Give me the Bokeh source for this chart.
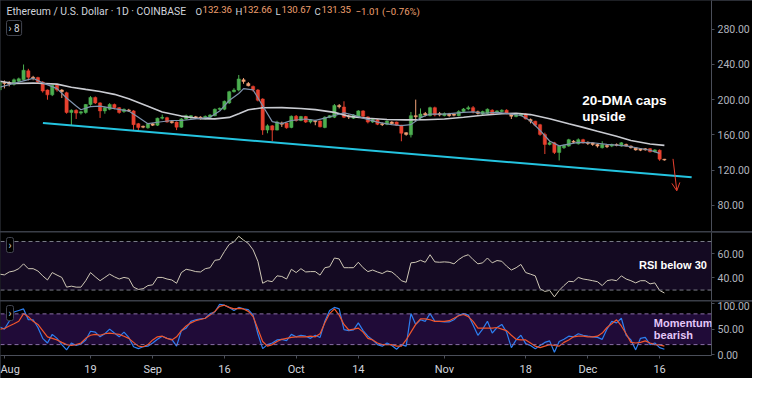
import pandas as pd
from bokeh.plotting import figure
from bokeh.layouts import column
from bokeh.models import (ColumnDataSource, Range1d, FixedTicker, NumeralTickFormatter,
                          BoxAnnotation, Span, Label, Arrow, OpenHead)
from bokeh.embed import file_html
from bokeh.resources import INLINE

# ---------------- data ----------------
first_day = "2019-07-31"
origin = pd.Timestamp("2019-08-01")

opens = [211, 219.5, 218.8, 217.4, 221, 222.5, 232.7, 225.4, 225, 219.9,
         210.9, 205.4, 216.3, 210.9, 207.9, 185.4, 187.9, 184.7, 185.4, 194.5,
         202.5, 196.3, 187.2, 189, 194.5, 190.9, 186.5, 188.3, 187.2, 172.7,
         169.8, 168, 172.7, 170.9, 178.9, 179.5, 175.2, 174.5, 168.7, 178.1,
         179.9, 180.6, 180.2, 178.1, 179.9, 181.8, 189, 189, 196.3, 209,
         210.9, 222.5, 218.3, 215, 210.9, 200.7, 165.4, 170.2, 165.4, 173.4,
         173.4, 168.4, 181.1, 176.3, 180.7, 174.5, 176, 175.6, 168.4, 179.6,
         180, 193.4, 191.6, 181.8, 178.9, 180, 187.2, 180.4, 174.5, 177,
         172.7, 172, 174.5, 174.5, 170.9, 162.5, 160, 181.8, 179.2, 184.3,
         181.8, 190.9, 184.3, 181.8, 183.6, 183.6, 181.8, 186.5, 189.4, 190.9,
         186.2, 183.6, 184.3, 188, 185.4, 186.5, 188, 183.6, 180.7, 181.8,
         183.6, 177.5, 175.5, 171.5, 160.5, 149.1, 150.9, 140, 145.4, 147.2,
         152.7, 149.8, 154.5, 151.6, 150.9, 149.1, 145.4, 148, 147.2, 149.1,
         147.2, 149.1, 147.2, 145.4, 144.3, 144.3, 144.3, 140.7, 142.5, 132.36]
highs = [222, 221.8, 221, 224, 225, 239.9, 235, 227, 226, 221,
         211.5, 217, 217, 212, 209, 189, 189, 187, 195, 204,
         203.5, 197, 192, 196, 195.5, 191.5, 190, 189.5, 188, 173.5,
         170.5, 173.5, 173.5, 179.5, 183, 180.5, 176, 175.2, 179, 183,
         182.5, 181.5, 181, 182, 183.5, 190, 191, 199, 210, 213,
         228, 224.5, 220, 216, 212, 201.5, 172, 171, 176, 175,
         174, 182, 182.5, 181.5, 181.5, 178, 177, 176.5, 181, 182.5,
         195, 195, 198.1, 183, 183.5, 188, 188, 181, 178.5, 178,
         174, 176.5, 175.5, 175, 171.5, 163, 186, 200, 190, 186,
         192, 192, 186, 185.5, 185, 184, 188, 190.5, 193, 192.7,
         187.5, 187.5, 190, 189, 188, 189, 189, 184.5, 184, 185,
         184.5, 178.5, 176, 172.5, 162.5, 153, 152, 148, 149, 155.5,
         154, 156, 155.5, 152.5, 151.5, 150, 152.7, 149, 150, 150.2,
         151.8, 150, 148, 146, 145, 145, 145, 143.6, 143.5, 132.66]
lows = [209, 212.7, 215, 216, 219, 221.8, 221.8, 222, 218, 208,
        199.9, 204, 209, 201.8, 184, 170.9, 178, 183, 184, 193,
        195, 179.2, 184, 188, 189, 184, 185, 186, 165.4, 163.6,
        167.5, 167, 170, 170, 177.5, 173.8, 172.8, 165.4, 168, 177,
        178, 178.5, 177.5, 177.5, 179, 181, 188, 188, 195, 208,
        209.5, 218, 215, 209, 198, 160, 161.8, 152.7, 165, 169,
        167, 167.5, 175, 175.5, 173.5, 173, 170.9, 168.5, 167.5, 179,
        179, 190, 179, 178, 178, 179, 180, 173, 173.5, 171,
        170, 171, 172, 170, 152.7, 159, 157, 175, 178, 181,
        181, 181, 181, 181, 180.5, 181, 181, 185.5, 188, 184.3,
        183, 182.5, 183.5, 182.5, 184.5, 185.5, 183.5, 178, 180, 181,
        177.5, 173, 169.5, 159, 138.2, 148, 138.2, 130.9, 144, 146.5,
        150.5, 149, 150, 148.5, 147.5, 145.5, 144.5, 145, 146, 147,
        146.5, 146.5, 144.5, 142, 141.5, 142, 140, 140, 130.5, 130.67]
closes = [220, 218.3, 217.8, 222.5, 223.6, 233.4, 225.4, 224.2, 219.9, 209.8,
          205.4, 216.3, 210.9, 209.0, 185.4, 187.9, 184.7, 186.2, 194.5, 202.5,
          196.3, 187.2, 190.9, 194.5, 190.9, 185.4, 189, 187.2, 171.6, 168.4,
          168.7, 172.7, 170.9, 178.9, 179.9, 174.5, 173.8, 168.7, 178.1, 181.8,
          181.8, 179.2, 178.9, 181, 182.5, 189, 190.1, 198.1, 209, 210.9,
          223.5, 220.5, 215.8, 210.9, 199.3, 165.4, 170.2, 165.4, 174.5, 172,
          168, 181.1, 176.3, 180.7, 174.5, 177, 174.8, 169.1, 180, 181.8,
          193.4, 192, 180, 180.4, 182.5, 187.2, 181.1, 174.5, 177.4, 172,
          171.6, 175.6, 172.7, 170.9, 161.8, 160.5, 181.8, 180.5, 183.6, 182.5,
          190.9, 182.5, 182.5, 184.3, 181.8, 182.2, 186.5, 189.4, 190.9, 186.5,
          184.3, 186.5, 189.1, 183.6, 187.2, 188, 184.3, 181.1, 182.9, 184.3,
          178.1, 175.5, 171, 160.5, 149.1, 151, 140, 147.2, 148, 154.5,
          151.6, 154.5, 150.9, 150.2, 149.1, 147.2, 149.1, 146.5, 149.1, 148,
          150.9, 147.2, 145.4, 142.9, 142.5, 142.9, 140.7, 142.9, 132.36, 131.35]

ma20_dates = ["2019-07-31", "2019-08-03", "2019-08-07", "2019-08-12", "2019-08-15", "2019-08-18",
              "2019-08-21", "2019-08-24", "2019-08-27", "2019-08-31", "2019-09-03", "2019-09-07",
              "2019-09-11", "2019-09-14", "2019-09-17", "2019-09-19", "2019-09-21", "2019-09-24",
              "2019-09-28", "2019-10-02", "2019-10-05", "2019-10-09", "2019-10-12", "2019-10-16",
              "2019-10-20", "2019-10-24", "2019-10-28", "2019-11-01", "2019-11-05", "2019-11-09",
              "2019-11-13", "2019-11-16", "2019-11-19", "2019-11-23", "2019-11-27", "2019-11-30",
              "2019-12-03", "2019-12-07", "2019-12-10", "2019-12-14", "2019-12-17"]
ma20_vals = [221, 218.3, 218.8, 217.6, 214, 211.6, 209.3, 206, 201, 192.5, 186, 181.3,
             178.3, 178.1, 179.8, 184, 188.5, 190.8, 190.9, 190, 188.6, 185.5, 181, 178.8,
             177.5, 177, 177.2, 178, 180, 182.2, 184, 184.5, 183, 178.2, 172.5, 168.5,
             164, 158.5, 153.5, 149.6, 148]

fast_dates = ["2019-07-31", "2019-08-04", "2019-08-07", "2019-08-09", "2019-08-12", "2019-08-14",
              "2019-08-16", "2019-08-17", "2019-08-19", "2019-08-21", "2019-08-24", "2019-08-27",
              "2019-08-29", "2019-08-31", "2019-09-02", "2019-09-05", "2019-09-07", "2019-09-10",
              "2019-09-13", "2019-09-15", "2019-09-17", "2019-09-19", "2019-09-20", "2019-09-22",
              "2019-09-24", "2019-09-26", "2019-09-28", "2019-09-30", "2019-10-03", "2019-10-05",
              "2019-10-07", "2019-10-09", "2019-10-11", "2019-10-13", "2019-10-15", "2019-10-18",
              "2019-10-21", "2019-10-23", "2019-10-25", "2019-10-27", "2019-10-29", "2019-11-01",
              "2019-11-05", "2019-11-07", "2019-11-09", "2019-11-12", "2019-11-15", "2019-11-17",
              "2019-11-19", "2019-11-21", "2019-11-23", "2019-11-25", "2019-11-27", "2019-11-29",
              "2019-12-02", "2019-12-05", "2019-12-09", "2019-12-12", "2019-12-14", "2019-12-16"]
fast_vals = [214, 219.9, 224.2, 219, 212.5, 201.8, 192.7, 188.5, 192, 192.7, 189.8, 187,
             180, 172.7, 174.3, 176.3, 176.3, 178.1, 180, 187, 199, 207, 212.5, 211,
             193, 175, 172.7, 176.3, 178, 176.5, 179, 182, 185, 182.5, 179, 174.5,
             171.6, 170.5, 171.6, 179.5, 183.6, 183.6, 185.5, 186, 184.5, 185.5, 183.6, 182,
             176, 165, 153, 147.5, 149.5, 151.5, 151, 149.2, 147.5, 144.5, 142.5, 139]

rsi = [43.1, 42.5, 44.9, 45.7, 47.6, 51.6, 47.6, 47.6, 45.7, 41.7,
       38.3, 44.4, 42.3, 40.4, 32.4, 33.2, 32.4, 32.4, 37.7, 44.4,
       40.9, 37.7, 40.4, 43.1, 40.9, 39.1, 40.4, 39.6, 32.4, 30.5,
       31.1, 33.7, 34.3, 40.4, 40.4, 39.1, 38.3, 35.6, 44.4, 47.1,
       46.3, 45.2, 44.9, 47.6, 48.4, 54.5, 55.1, 61.7, 67.6, 69.7,
       74.3, 71.1, 68.4, 63.1, 53.7, 35.6, 37.7, 36.9, 41.7, 41.2,
       39.1, 47.1, 44.4, 47.6, 44.9, 45.2, 45.2, 42.3, 48.4, 49.2,
       56.4, 55.6, 48.4, 48.4, 48.4, 52.9, 48.4, 45.2, 46.5, 44.9,
       43.6, 45.7, 44.9, 41.7, 37.7, 36.4, 52.4, 52.9, 54.5, 52.9,
       59.1, 53.2, 52.9, 53.2, 52.9, 51.6, 55.1, 57.7, 59.1, 55.1,
       51.6, 52.4, 56.4, 52.4, 54.3, 53.7, 49.7, 46.5, 48.4, 51.1,
       44.4, 43.1, 41.7, 31.1, 28.9, 29.7, 24.4, 29.7, 33.7, 37.2,
       36.9, 40.4, 39.1, 38.5, 37.7, 36.9, 33.7, 37.7, 38.5, 37.7,
       41.7, 39.1, 37.7, 35.9, 37.7, 37.7, 35.1, 35.9, 29.7, 27.6]

stoch_k = [54.6, 50.3, 65.5, 83.7, 86.7, 89.7, 68.5, 68.5, 53.4, 32.2,
           23.1, 40, 32.2, 20, 9.7, 23.1, 18.2, 21.2, 29.1, 46.1,
           44.3, 35.2, 41.2, 50.3, 42.5, 35.2, 44.3, 34, 15.8, 12.1,
           15.8, 17, 23.1, 30.3, 36.4, 32.2, 30.3, 17, 47.3, 52.2,
           65.5, 68.5, 70.3, 71.5, 80.6, 83.7, 98.8, 97, 92.7, 86.7,
           92.7, 89.7, 88.5, 77.6, 41.2, 12.1, 20, 23.1, 29.1, 30.3,
           27.9, 40, 35.2, 38.2, 36.4, 32.2, 38.2, 34, 65.5, 86.7,
           92.7, 89.7, 49.1, 47.3, 48.5, 62.5, 47.3, 36.4, 29.1, 20,
           17, 23.1, 18.2, 10.9, 20, 17, 80.6, 59.4, 68.5, 65.5,
           80.6, 65.5, 65.5, 64.3, 64.3, 68.5, 77.6, 80.6, 77.6, 58.2,
           38.2, 50.3, 65.5, 42.5, 53.4, 59.4, 44.3, 14, 29.1, 38.2,
           21.9, 18.2, 12.1, 18.2, 24.3, 27.3, 4.9, 26.1, 30.3, 36.4,
           35.2, 41.2, 38.2, 36.4, 35.2, 34, 30.3, 50.3, 65.5, 62.5,
           71.5, 38.2, 29.1, 9.7, 32.2, 34, 20, 23.1, 14, 10.9]

stoch_d = [50.3, 51.5, 56.4, 60.6, 65.5, 80.6, 74.6, 65.5, 59.4, 47.3,
           35.2, 32.2, 29.1, 24.3, 20, 18.2, 20, 23.1, 32.2, 38.2,
           40, 38.2, 41.2, 42.5, 41.2, 40, 36.4, 32.2, 24.3, 17,
           15.8, 20, 29.1, 35.2, 36.4, 32.2, 29.1, 35.2, 47.3, 56.4,
           62.5, 66.7, 69, 71.5, 77.6, 84.9, 94.6, 97, 92.7, 89.7,
           90.9, 89.7, 84.9, 74.6, 50.3, 26.1, 17, 20, 26.1, 30.3,
           32.2, 34, 35.2, 35.2, 35.2, 36.4, 35.2, 41.2, 62.5, 80.6,
           89.7, 77.6, 59.4, 48.5, 50.3, 52.2, 44.3, 32.2, 29.1, 23.1,
           20, 20, 20, 17, 17, 29.1, 44.3, 59.4, 70.3, 70.3,
           68.5, 65.5, 65.5, 65.5, 66.7, 71.5, 76.4, 78.8, 74.6, 65.5,
           52.2, 52.2, 52.2, 52.2, 53.4, 50.3, 47.3, 38.2, 30.3, 29.1,
           29.1, 23.1, 17, 14, 17, 20, 18.2, 17, 24.3, 29.1,
           35.2, 36.4, 36.4, 35.2, 35.2, 36.4, 42.5, 53.4, 60.6, 68.5,
           56.4, 41.2, 24.3, 23.1, 24.3, 27.3, 23.1, 20, 19.4, 17]

trend_dates = ["2019-08-09", "2019-12-22"]
trend_prices = [173.4, 111.7]
trend_frac = [0.05, 0.7]

arrow_dates = ["2019-12-18", "2019-12-19"]
arrow_frac = [0.8, 0.6]
arrow_prices = [132.7, 96.4]

tick_dates = ["2019-08-01", "2019-08-19", "2019-09-01", "2019-09-16", "2019-10-01",
              "2019-10-14", "2019-11-01", "2019-11-18", "2019-12-01", "2019-12-16"]
tick_labels = ["Aug", "19", "Sep", "16", "Oct", "14", "Nov", "18", "Dec", "16"]
price_ticks = [80, 120, 160, 200, 240, 280]
rsi_ticks = [40, 60]
mom_ticks = [0, 50, 100]
last_close = 131.35

# ---------------- helpers ----------------
def day_index(ds):
    return [int((pd.Timestamp(d) - origin).days) for d in ds]

dates = pd.date_range(first_day, periods=len(opens), freq="D")
xs = [int(v) for v in (dates - origin).days]

GREEN, RED, PEACH = "#4caf50", "#e8412f", "#f2a278"
colors = []
for o, c in zip(opens, closes):
    if c >= o:
        colors.append(GREEN)
    elif o - c < 3:
        colors.append(PEACH)
    else:
        colors.append(RED)

src = ColumnDataSource(dict(x=xs, o=opens, h=highs, l=lows, c=closes,
                            top=[max(a, b) for a, b in zip(opens, closes)],
                            bot=[min(a, b) for a, b in zip(opens, closes)],
                            color=colors, rsi=rsi, k=stoch_k, d=stoch_d))

X_LO, X_HI = -0.82, 147.85
FW = 712
AX = 40
BG = "#000000"
SEP = "#4a4e59"
LBL = "#b2b5be"
FONT = "Roboto"


def base_fig(h, y0, y1, ticks, bottom=0):
    p = figure(width=FW + AX, height=h + bottom, output_backend="svg", toolbar_location=None,
               x_range=Range1d(X_LO, X_HI), y_range=Range1d(y0, y1), y_axis_location="right",
               min_border=0, min_border_left=0, min_border_right=AX, min_border_top=0,
               min_border_bottom=bottom, background_fill_color=BG, border_fill_color=BG,
               outline_line_color=None)
    p.xgrid.visible = False
    p.ygrid.visible = False
    ya = p.yaxis[0]
    ya.ticker = FixedTicker(ticks=ticks)
    ya.formatter = NumeralTickFormatter(format="0.00")
    ya.axis_line_color = SEP
    ya.major_tick_line_color = SEP
    ya.major_tick_out = 3
    ya.major_tick_in = 0
    ya.minor_tick_line_color = None
    ya.major_label_standoff = 3
    ya.major_label_text_color = LBL
    ya.major_label_text_font = FONT
    ya.major_label_text_font_size = "10.5px"
    return p

# ---------------- main price panel ----------------
pm = base_fig(231, 50.2, 312.6, price_ticks)
pm.xaxis.visible = False

pm.segment(x0="x", y0="l", x1="x", y1="h", color="color", line_width=1, source=src)
pm.vbar(x="x", width=0.68, top="top", bottom="bot", fill_color="color", line_color="color",
        line_width=0.5, source=src)

ma20_x = day_index(ma20_dates)
fast_x = day_index(fast_dates)
pm.line(ma20_x, ma20_vals, line_color="#c9cbd1", line_width=1.6)
pm.line(fast_x, fast_vals, line_color="#7f93ad", line_width=1.2)

tx = [a + f for a, f in zip(day_index(trend_dates), trend_frac)]
pm.line(tx, trend_prices, line_color="#24c4e0", line_width=2)

ax_ = [a + f for a, f in zip(day_index(arrow_dates), arrow_frac)]
pm.add_layout(Arrow(end=OpenHead(size=8, line_color="#e8412f", line_width=1),
                    x_start=ax_[0], y_start=arrow_prices[0], x_end=ax_[1], y_end=arrow_prices[1],
                    line_color="#e8412f", line_width=1))

# title
pm.add_layout(Label(x=X_LO, y=312.6, x_offset=6, y_offset=-4, text="Ethereum / U.S. Dollar · 1D · COINBASE",
                    text_baseline="top", text_color="#d1d4dc", text_font=FONT, text_font_size="10.4px"))
parts = [("O", 195, "#d1d4dc"), ("132.36", 202, "#f0a070"), ("H", 235, "#d1d4dc"), ("132.66", 242, "#f0a070"),
         ("L", 275, "#d1d4dc"), ("130.67", 281, "#f0a070"), ("C", 314, "#d1d4dc"), ("131.35", 321, "#f0a070"),
         ("\u22121.01 (\u22120.76%)", 355, "#f0a070")]
for t, off, col in parts:
    pm.add_layout(Label(x=X_LO, y=312.6, x_offset=off, y_offset=-5, text=t, text_baseline="top",
                        text_color=col, text_font=FONT, text_font_size="9.6px"))
pm.add_layout(Label(x=X_LO, y=312.6, x_offset=6, y_offset=-20, text="\u203a 8", text_baseline="top",
                    text_color="#d1d4dc", text_font=FONT, text_font_size="10px",
                    border_line_color="#434651", background_fill_color=BG, padding=2, border_radius=2))

pm.add_layout(Label(x=120.8, y=207, text="20-DMA caps\nupside", text_baseline="top", text_color="#ffffff",
                    text_font="Liberation Sans", text_font_style="bold", text_font_size="13.5px",
                    text_line_height=1.05))

pm.add_layout(Label(x=X_HI, y=last_close, x_offset=1, text="131.35", text_baseline="middle",
                    text_color="#ffffff", text_font=FONT, text_font_size="10.5px",
                    background_fill_color="#e53935", padding=3))

# ---------------- RSI panel ----------------
pr = base_fig(68, 21.4, 77.4, rsi_ticks)
pr.xaxis.visible = False
pr.add_layout(BoxAnnotation(bottom=30, top=70, fill_color="#140a22", fill_alpha=1, line_color=None,
                            level="underlay"))
for lv in (30, 70):
    pr.add_layout(Span(location=lv, dimension="width", line_color="#7a7d88", line_dash="4 3",
                       line_width=1))
pr.line("x", "rsi", source=src, line_color="#cfc8b6", line_width=1)
pr.add_layout(Label(x=132.7, y=51, text="RSI below 30", text_baseline="middle", text_color="#ffffff",
                    text_font="Liberation Sans", text_font_style="bold", text_font_size="11px"))
pr.add_layout(Label(x=X_LO, y=77.4, x_offset=6, y_offset=-5, text="\u203a", text_baseline="top",
                    text_color="#d1d4dc", text_font=FONT, text_font_size="10px",
                    border_line_color="#434651", background_fill_color=BG, padding=2, border_radius=2))

# ---------------- momentum panel ----------------
pmo = base_fig(56, -1.3, 104.2, mom_ticks, bottom=21)
pmo.add_layout(BoxAnnotation(bottom=20, top=80, fill_color="#200b38", fill_alpha=1, line_color=None,
                             level="underlay"))
for lv in (20, 80):
    pmo.add_layout(Span(location=lv, dimension="width", line_color="#8a6fa8", line_dash="4 3",
                        line_width=1))
pmo.line("x", "k", source=src, line_color="#2d7ff0", line_width=1.2)
pmo.line("x", "d", source=src, line_color="#f0552b", line_width=1.2)
pmo.add_layout(Label(x=135.8, y=73, text="Momentum\nbearish", text_baseline="top", text_color="#e3c6f7",
                     text_font="Liberation Sans", text_font_style="bold", text_font_size="11px",
                     text_line_height=0.95))
pmo.add_layout(Label(x=X_LO, y=104.2, x_offset=6, y_offset=-4, text="\u203a", text_baseline="top",
                     text_color="#d1d4dc", text_font=FONT, text_font_size="10px",
                     border_line_color="#434651", background_fill_color=BG, padding=2, border_radius=2))

xa = pmo.xaxis[0]
tick_x = day_index(tick_dates)
xa.ticker = FixedTicker(ticks=tick_x)
xa.major_label_overrides = {t: lab for t, lab in zip(tick_x, tick_labels)}
xa.axis_line_color = SEP
xa.major_tick_line_color = SEP
xa.major_tick_out = 3
xa.major_tick_in = 0
xa.minor_tick_line_color = None
xa.major_label_standoff = 4
xa.major_label_text_color = "#d1d4dc"
xa.major_label_text_font = FONT
xa.major_label_text_font_size = "11px"

pmo.add_layout(Label(x=X_HI, y=-1.3, x_offset=20, y_offset=-11, text="\u2699", text_align="center",
                     text_baseline="middle", text_color="#9598a1", text_font="DejaVu Sans",
                     text_font_size="13px"))

layout = column(pm, pr, pmo, spacing=1, styles={"background-color": "#3a3e48"})

open("out.html", "w").write(file_html(layout, INLINE))
